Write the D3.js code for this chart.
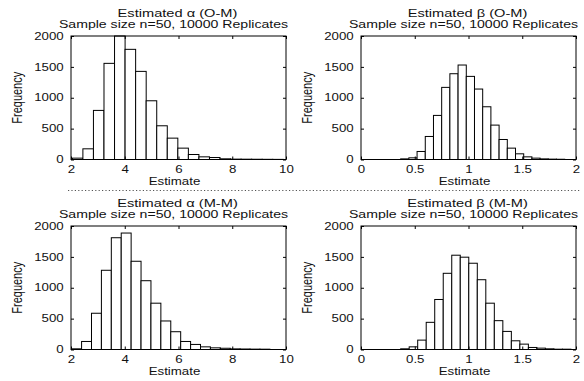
<!DOCTYPE html>
<html>
<head>
<meta charset="utf-8">
<script src="https://cdn.jsdelivr.net/npm/d3@7"></script>
<style>
  body { margin: 0; background: #fff; }
  svg text { font-family: "Liberation Sans", Arial, sans-serif; fill: #111; }
</style>
</head>
<body>
<div id="chart"></div>
<script>
	// histogram counts, 20 bins each
	var alphaOM = [22, 173, 795, 1557, 2040, 1784, 1427, 951, 546, 346, 184, 81, 43, 32, 11, 6, 5, 4, 3, 2];
	var betaOM  = [10, 27, 130, 373, 714, 1168, 1389, 1530, 1346, 1141, 854, 557, 324, 184, 92, 43, 22, 10, 6, 4];
	var alphaMM = [11, 130, 587, 1283, 1810, 1886, 1429, 1114, 750, 462, 288, 130, 82, 43, 27, 20, 10, 8, 6, 5];
	var betaMM  = [11, 43, 152, 440, 810, 1234, 1527, 1495, 1397, 1130, 750, 467, 293, 141, 87, 33, 22, 11, 5, 5];

	// data range covered by the bins (min, max of the estimates)
	var alphaOMRange = [2.05, 9.9];
	var betaOMRange  = [0.369, 1.895];
	var alphaMMRange = [2.025, 9.4];
	var betaMMRange  = [0.369, 1.953];

	var alphaTicks = [2, 4, 6, 8, 10];
	var betaTicks  = [0, 0.5, 1, 1.5, 2];
	var freqTicks  = [0, 500, 1000, 1500, 2000];

	var titles = ["Estimated \u03b1 (O-M)", "Estimated \u03b2 (O-M)", "Estimated \u03b1 (M-M)", "Estimated \u03b2 (M-M)"];
	var subtitle = "Sample size n=50, 10000 Replicates";

	var W = 584, H = 381;
	var SX = 1.33;   // the picture is stretched sideways

	var panels = [
		{ title: titles[0], counts: alphaOM, range: alphaOMRange, dom: [2, 10], ticks: alphaTicks, x: 71,  y: 36 },
		{ title: titles[1], counts: betaOM,  range: betaOMRange,  dom: [0, 2],  ticks: betaTicks,  x: 361, y: 36 },
		{ title: titles[2], counts: alphaMM, range: alphaMMRange, dom: [2, 10], ticks: alphaTicks, x: 71,  y: 226 },
		{ title: titles[3], counts: betaMM,  range: betaMMRange,  dom: [0, 2],  ticks: betaTicks,  x: 361, y: 226 }
	];
	var pw = 215, ph = 123.5;

	var svg = d3.select('#chart').append('svg')
		.attr('width', W)
		.attr('height', H);

	function label(g, str, x, y, rot, size)
	{
		g.append('text')
			.attr('transform', 'translate(' + x + ',' + y + ') scale(' + SX + ',1)' + (rot ? ' rotate(-90)' : ''))
			.attr('text-anchor', 'middle')
			.attr('font-size', size || 10)
			.text(str);
	}

	function fixText(sel)
	{
		sel.select('.domain').remove();
		sel.attr('font-family', null).attr('font-size', 10);
		sel.selectAll('line').attr('stroke', '#000');
		sel.selectAll('text').attr('transform', 'scale(' + SX + ',1)').attr('fill', '#111');
	}

	panels.forEach(function(p){
		var g = svg.append('g').attr('transform', 'translate(' + p.x + ',' + p.y + ')');

		var x = d3.scaleLinear().domain(p.dom).range([0, pw]);
		var y = d3.scaleLinear().domain([0, 2000]).range([ph, 0]).clamp(true);

		// bins: equal width over the data range
		var n = p.counts.length;
		var bw = (p.range[1] - p.range[0]) / n;
		var bins = p.counts.map(function(c, i){
			return { x0: p.range[0] + i * bw, x1: p.range[0] + (i + 1) * bw, c: c };
		});

		g.selectAll('rect.bar').data(bins).enter().append('rect')
			.attr('class', 'bar')
			.attr('x', function(d){ return x(d.x0); })
			.attr('y', function(d){ return y(d.c); })
			.attr('width', function(d){ return x(d.x1) - x(d.x0); })
			.attr('height', function(d){ return ph - y(d.c); })
			.attr('fill', '#fff')
			.attr('stroke', '#000')
			.attr('stroke-width', 1);

		// axes with inside ticks
		g.append('g').attr('transform', 'translate(0,' + ph + ')')
			.call(d3.axisBottom(x).tickValues(p.ticks).tickSize(-3).tickPadding(6).tickFormat(d3.format('')))
			.call(fixText);
		g.append('g')
			.call(d3.axisTop(x).tickValues(p.ticks).tickSize(-3).tickFormat(''))
			.call(fixText);
		g.append('g')
			.call(d3.axisLeft(y).tickValues(freqTicks).tickSize(-3).tickPadding(5.5).tickFormat(d3.format('')))
			.call(fixText);
		g.append('g').attr('transform', 'translate(' + pw + ',0)')
			.call(d3.axisRight(y).tickValues(freqTicks).tickSize(-3).tickFormat(''))
			.call(fixText);

		g.append('rect')
			.attr('width', pw).attr('height', ph)
			.attr('fill', 'none')
			.attr('stroke', '#000')
			.attr('stroke-width', 1);

		label(g, p.title, pw / 2 - 1, -19.3, false, 11);
		label(g, subtitle, pw / 2 - 5, -8, false, 10.6);
		label(g, 'Estimate', pw / 2 - 4, ph + 25.8);
		label(g, 'Frequency', -49.5, ph / 2, true, 11);
	});

	// dotted separator between the two rows
	svg.append('line')
		.attr('x1', 68).attr('x2', 580)
		.attr('y1', 190.5).attr('y2', 190.5)
		.attr('stroke', '#555')
		.attr('stroke-width', 1)
		.attr('stroke-dasharray', '1.2,2.2');
</script>
</body>
</html>
